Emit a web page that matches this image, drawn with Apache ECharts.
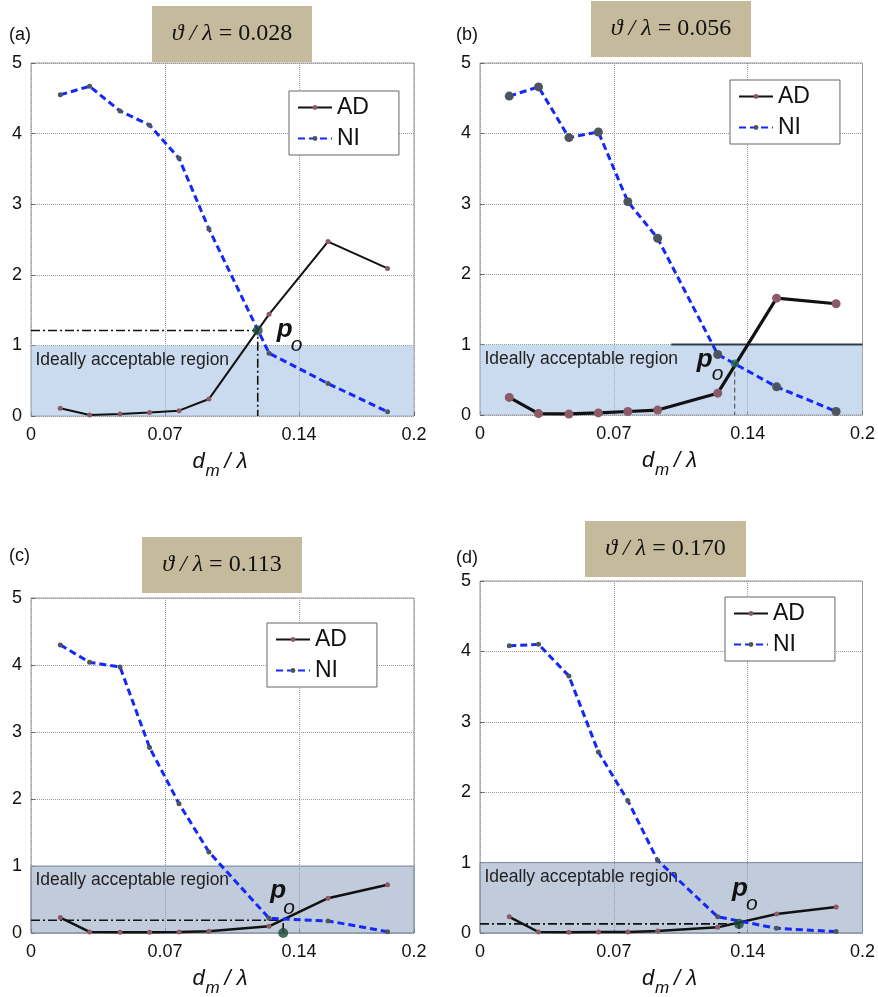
<!DOCTYPE html>
<html><head><meta charset="utf-8">
<script src="https://cdn.jsdelivr.net/npm/echarts@6/dist/echarts.min.js"></script>
<style>html,body{margin:0;padding:0;background:#fff}#c{width:878px;height:997px}</style>
</head><body><div id="c"></div>
<script>
// ---- data ----
const dmX = [0.0153, 0.0306, 0.0465, 0.0619, 0.0773, 0.0929, 0.1243, 0.1551, 0.1862];
const adA = [0.11, 0.014, 0.03, 0.05, 0.076, 0.24, 1.44, 2.47, 2.09];
const niA = [4.55, 4.67, 4.32, 4.12, 3.65, 2.65, 0.89, 0.46, 0.06];
const adB = [0.25, 0.02, 0.015, 0.03, 0.05, 0.07, 0.31, 1.66, 1.58];
const niB = [4.53, 4.66, 3.94, 4.02, 3.03, 2.51, 0.86, 0.40, 0.05];
const adC = [0.23, 0.015, 0.01, 0.01, 0.015, 0.025, 0.10, 0.52, 0.72];
const niC = [4.30, 4.04, 3.97, 2.77, 1.93, 1.21, 0.22, 0.18, 0.02];
const adD = [0.23, 0.014, 0.01, 0.014, 0.014, 0.03, 0.08, 0.27, 0.37];
const niD = [4.08, 4.10, 3.65, 2.57, 1.88, 1.03, 0.23, 0.066, 0.02];
const poA = [0.1184, 1.21];
const poB = [0.1332, 0.73];
const poC = [0.1317, 0.19];
const poD = [0.1354, 0.13];
const regionRange = [0, 1];
const bTopLine = [[0.1, 1], [0.2, 1]];
const panelLabels = ['(a)', '(b)', '(c)', '(d)'];
const ratioValues = ['0.028', '0.056', '0.113', '0.170'];
const regionText = 'Ideally acceptable region';
const xRange = [0, 0.2, 0.07];
const yRange = [0, 5, 1];

// ---- layout / style ----
const grids = [
  {left: 31, top: 63, width: 383, height: 353},
  {left: 480, top: 63, width: 384, height: 352},
  {left: 31, top: 598, width: 383, height: 335},
  {left: 480, top: 581, width: 384, height: 352}
];
const titleBoxes = [
  {x: 152, y: 6, w: 160, h: 56},
  {x: 591, y: 1, w: 160, h: 56},
  {x: 142, y: 537, w: 160, h: 56},
  {x: 585, y: 521, w: 161, h: 56}
];
const labelPos = [[9, 26], [456, 26], [9, 547], [456, 549]];
const legendPos = [[289, 91], [730, 80], [267, 623], [725, 597]];
const regionColors = ['rgba(160,190,225,0.55)', 'rgba(160,190,225,0.55)', 'rgba(140,160,192,0.55)', 'rgba(140,160,192,0.55)'];
const symSizes = [5, 9, 5, 5];
const adWidths = [2, 3.2, 2.5, 2.5];
// p_o label glyph offsets (left x, baseline y) relative to the intersection pixel
const poOffsets = [
  {p: [19, 8], o: [33, 22]},
  {p: [-38, 5], o: [-23, 18]},
  {p: [-13, -20], o: [0, -5]},
  {p: [-7, -26], o: [7, -12]}
];

const panels = [
  {ad: adA, ni: niA, po: poA},
  {ad: adB, ni: niB, po: poB},
  {ad: adC, ni: niC, po: poC},
  {ad: adD, ni: niD, po: poD}
];

const font = 'Liberation Sans, Arial, sans-serif';
const cssFont = '"Liberation Sans", Arial, sans-serif';
const xAxes = [], yAxes = [], series = [], legends = [], graphics = [];

function textAtBaseline(str, left, baseline, size, style, z) {
  return {
    type: 'text', x: left, y: baseline - 0.3465 * size, z: z || 12, silent: true,
    style: {text: str, align: 'left', verticalAlign: 'middle',
      font: style + ' ' + size + 'px ' + cssFont, fill: '#111'}
  };
}

panels.forEach((p, i) => {
  xAxes.push({
    type: 'value', gridIndex: i, min: xRange[0], max: xRange[1], interval: xRange[2],
    axisLine: {show: false},
    axisTick: {show: true, inside: true, length: 4, lineStyle: {color: '#666'}},
    axisLabel: {fontSize: 18, color: '#111', fontFamily: font, margin: 10,
      formatter: v => v === 0 ? '0' : String(+v.toFixed(2))},
    splitLine: {show: true, lineStyle: {type: 'dotted', color: '#999', width: 1}}
  });
  yAxes.push({
    type: 'value', gridIndex: i, min: yRange[0], max: yRange[1], interval: yRange[2],
    axisLine: {show: false},
    axisTick: {show: true, inside: true, length: 4, lineStyle: {color: '#666'}},
    axisLabel: {fontSize: 18, color: '#111', fontFamily: font, margin: 9},
    splitLine: {show: true, lineStyle: {type: 'dotted', color: '#999', width: 1}}
  });

  const bottomRow = i >= 2;
  series.push({
    type: 'line', name: 'region', xAxisIndex: i, yAxisIndex: i, data: [], z: 1, silent: true,
    markArea: {
      silent: true,
      itemStyle: {color: regionColors[i], borderColor: bottomRow ? '#7f8ea0' : 'rgba(0,0,0,0)', borderWidth: 1},
      label: {show: true, position: 'insideTopLeft', offset: [0, 1], fontSize: 17.5, color: '#222', fontFamily: font},
      data: [[{yAxis: regionRange[0], name: regionText}, {yAxis: regionRange[1]}]]
    }
  });
  const po = p.po;
  if (i === 1) {
    series.push({
      type: 'line', name: 'ref', xAxisIndex: i, yAxisIndex: i, z: 2, silent: true, symbol: 'none',
      data: [[po[0], po[1]], [po[0], 0]],
      lineStyle: {color: '#444', width: 1, type: [5, 3]}
    });
    series.push({
      type: 'line', name: 'ref2', xAxisIndex: i, yAxisIndex: i, z: 2, silent: true, symbol: 'none',
      data: bTopLine, lineStyle: {color: '#2c3a4a', width: 2}
    });
  } else {
    series.push({
      type: 'line', name: 'ref', xAxisIndex: i, yAxisIndex: i, z: 2, silent: true, symbol: 'none',
      data: [[0, po[1]], [po[0], po[1]], [po[0], 0]],
      lineStyle: {color: '#111', width: 1.6, type: [9, 3, 2, 3]}
    });
  }
  series.push({
    type: 'line', name: 'AD', xAxisIndex: i, yAxisIndex: i, z: 4,
    data: dmX.map((x, j) => [x, p.ad[j]]),
    symbol: 'circle', symbolSize: symSizes[i], showSymbol: true,
    itemStyle: {color: '#8a5a66'},
    lineStyle: {color: '#111', width: adWidths[i]}
  });
  series.push({
    type: 'line', name: 'NI', xAxisIndex: i, yAxisIndex: i, z: 5,
    data: dmX.map((x, j) => [x, p.ni[j]]),
    symbol: 'circle', symbolSize: symSizes[i], showSymbol: true,
    itemStyle: {color: '#4d565e'},
    lineStyle: {color: '#1428f8', width: 3, type: [7, 4]}
  });
  series.push({
    type: 'scatter', name: 'po', xAxisIndex: i, yAxisIndex: i, z: 6,
    data: [i === 2 ? [po[0], 0] : po],
    symbolSize: i === 1 ? 8 : 10,
    itemStyle: {color: i === 1 ? '#2a6a5a' : '#1b4a33'}
  });

  legends.push({
    left: legendPos[i][0], top: legendPos[i][1], orient: 'vertical',
    data: ['AD', 'NI'],
    backgroundColor: '#fff', borderColor: '#666', borderWidth: 1,
    padding: [5, 30, 5, 8], itemGap: 8, itemWidth: 34, itemHeight: 6,
    textStyle: {fontSize: 23, color: '#111', fontFamily: font},
    selectedMode: false
  });

  const tb = titleBoxes[i];
  graphics.push({
    type: 'rect', left: tb.x, top: tb.y, shape: {width: tb.w, height: tb.h},
    style: {fill: '#c5bb9c'}, z: 10
  });
  graphics.push({
    type: 'text', x: tb.x + tb.w / 2, y: tb.y + tb.h / 2, z: 11,
    style: {
      text: '{i|ϑ} {i|/} {i|λ} = ' + ratioValues[i],
      align: 'center', verticalAlign: 'middle',
      font: '24px "Liberation Serif", "DejaVu Serif", serif', fill: '#111',
      rich: {i: {fontStyle: 'italic', fontSize: 24, fontFamily: 'Liberation Serif, DejaVu Serif, serif'}}
    }
  });
  graphics.push({
    type: 'text', left: labelPos[i][0], top: labelPos[i][1], z: 11,
    style: {text: panelLabels[i], font: '18px ' + cssFont, fill: '#111'}
  });
  // axis title d_m / λ
  const g = grids[i];
  const cx = g.left + g.width / 2, ay = g.top + g.height;
  graphics.push(textAtBaseline('d', cx - 30, ay + 53, 22, 'italic'));
  graphics.push(textAtBaseline('m', cx - 17, ay + 61, 17, 'italic'));
  graphics.push(textAtBaseline('/ λ', cx + 2, ay + 53, 22, 'italic'));
});

const chart = echarts.init(document.getElementById('c'));
chart.setOption({
  animation: false,
  backgroundColor: '#fff',
  grid: grids.map(g => Object.assign({show: true, borderColor: '#999', borderWidth: 1, backgroundColor: '#fff'}, g)),
  xAxis: xAxes, yAxis: yAxes, series: series, legend: legends, graphic: graphics
});

// p_o labels placed from the intersection points through the chart's own scales
panels.forEach((p, i) => {
  const pt = chart.convertToPixel({gridIndex: i}, p.po);
  const off = poOffsets[i];
  graphics.push(textAtBaseline('p', pt[0] + off.p[0], pt[1] + off.p[1], 26, 'italic bold', 13));
  graphics.push(textAtBaseline('o', pt[0] + off.o[0], pt[1] + off.o[1], 21, 'italic', 13));
});
chart.setOption({graphic: graphics});
</script></body></html>
